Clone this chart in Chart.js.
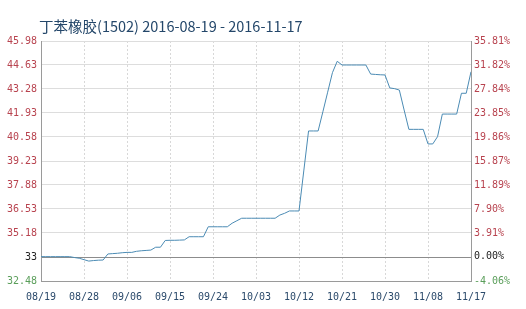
<!DOCTYPE html>
<html>
<head>
<meta charset="utf-8">
<script src="https://cdn.jsdelivr.net/npm/chart.js@4"></script>
<style>
html,body{margin:0;padding:0;background:#fff;}
#wrap{width:526px;height:309px;position:relative;}
</style>
</head>
<body>
<div id="wrap"><canvas id="c" width="526" height="309"></canvas></div>
<script>
const titleText = '丁苯橡胶(1502) 2016-08-19 - 2016-11-17';
const xTickLabels = ['08/19','08/28','09/06','09/15','09/24','10/03','10/12','10/21','10/30','11/08','11/17'];
const xTickDays = [0,9,18,27,36,45,54,63,72,81,90];
const leftTickValues = [32.48,33.83,35.18,36.53,37.88,39.23,40.58,41.93,43.28,44.63,45.98];
const leftTickLabels = ['32.48','33','35.18','36.53','37.88','39.23','40.58','41.93','43.28','44.63','45.98'];
const rightTickValues = [-4.06,0,3.91,7.90,11.89,15.87,19.86,23.85,27.84,31.82,35.81];
const rightTickLabels = ['-4.06%','0.00%','3.91%','7.90%','11.89%','15.87%','19.86%','23.85%','27.84%','31.82%','35.81%'];
const dayIndex = [
  0,1,2,3,4,5,6,7,8,9,10,11,12,13,14,15,16,17,18,19,20,21,22,23,24,25,26,27,28,29,
  30,31,32,33,34,35,36,37,38,39,40,41,42,43,44,45,46,47,48,49,50,51,52,53,54,55,56,57,58,59,
  60,61,62,63,64,65,66,67,68,69,70,71,72,73,74,75,76,77,78,79,80,81,82,83,84,85,86,87,88,89,90
];
const prices = [
  33.85,33.85,33.85,33.85,33.85,33.85,33.85,33.80,33.76,33.68,
  33.60,33.63,33.65,33.66,34.00,34.02,34.04,34.07,34.09,34.09,
  34.15,34.18,34.20,34.22,34.38,34.38,34.76,34.77,34.77,34.78,
  34.79,34.97,34.97,34.97,34.97,35.53,35.53,35.53,35.53,35.53,
  35.73,35.87,36.01,36.01,36.01,36.01,36.01,36.01,36.01,36.01,
  36.19,36.29,36.42,36.42,36.42,38.67,40.92,40.92,40.92,42.00,
  43.10,44.20,44.84,44.63,44.63,44.63,44.63,44.63,44.63,44.12,
  44.10,44.08,44.07,43.34,43.30,43.22,42.10,41.01,41.01,41.01,
  41.01,40.19,40.19,40.60,41.87,41.87,41.87,41.87,43.04,43.04,
  44.25
];

const points = dayIndex.map((d,i)=>({x:d,y:prices[i]}));
const tickFont = {family:'"DejaVu Sans Mono", monospace', size:10};

const titlePlugin = {
  id:'titleText',
  afterDraw(chart){
    const ctx = chart.ctx;
    ctx.save();
    ctx.font = '14.5px "Noto Sans CJK SC", "Noto Sans", sans-serif';
    ctx.fillStyle = '#24476a';
    ctx.textBaseline = 'middle';
    ctx.textAlign = 'left';
    ctx.fillText(titleText, chart.chartArea.left - 2, 26);
    ctx.restore();
  }
};

new Chart(document.getElementById('c'), {
  type:'line',
  data:{
    datasets:[{
      data:points,
      borderColor:'#4b8bb4',
      borderWidth:1,
      pointRadius:0,
      tension:0,
      fill:false,
      yAxisID:'y'
    }]
  },
  options:{
    responsive:false,
    animation:false,
    events:[],
    layout:{padding:{top:41,left:0,right:0,bottom:0}},
    plugins:{legend:{display:false},tooltip:{enabled:false},title:{display:false}},
    scales:{
      x:{
        type:'linear', min:0, max:90,
        afterBuildTicks(s){ s.ticks = xTickDays.map(v=>({value:v})); },
        afterFit(s){ s.height = 28; },
        ticks:{
          font:tickFont, color:'#2b4a6b', padding:10, maxRotation:0, autoSkip:false,
          callback(v){ const i = xTickDays.indexOf(v); return i>=0 ? xTickLabels[i] : ''; }
        },
        grid:{color:'#d8d8d8', drawTicks:false, lineWidth:1},
        border:{display:true, color:'#9a9a9a', dash:[2,2]}
      },
      y:{
        type:'linear', position:'left', min:32.48, max:45.98,
        afterBuildTicks(s){ s.ticks = leftTickValues.map(v=>({value:v})); },
        afterFit(s){ s.width = 41; },
        ticks:{
          font:tickFont, padding:4, autoSkip:false,
          color(ctx){ const i = ctx.index; return i===0 ? '#5a9e5a' : (i===1 ? '#222222' : '#b8434f'); },
          callback(v,i){ return leftTickLabels[i]; }
        },
        grid:{
          drawTicks:false,
          color(ctx){ return ctx.index===1 ? '#8c8c8c' : '#dddddd'; }
        },
        border:{display:true, color:'#9a9a9a'}
      },
      y2:{
        type:'linear', position:'right', min:-4.06, max:35.81,
        afterBuildTicks(s){ s.ticks = rightTickValues.map(v=>({value:v})); },
        afterFit(s){ s.width = 55; },
        ticks:{
          font:tickFont, padding:3, autoSkip:false,
          color(ctx){ const i = ctx.index; return i===0 ? '#5a9e5a' : (i===1 ? '#222222' : '#b8434f'); },
          callback(v,i){ return rightTickLabels[i]; }
        },
        grid:{drawOnChartArea:false, drawTicks:false},
        border:{display:true, color:'#9a9a9a'}
      }
    }
  },
  plugins:[titlePlugin]
});
</script>
</body>
</html>
